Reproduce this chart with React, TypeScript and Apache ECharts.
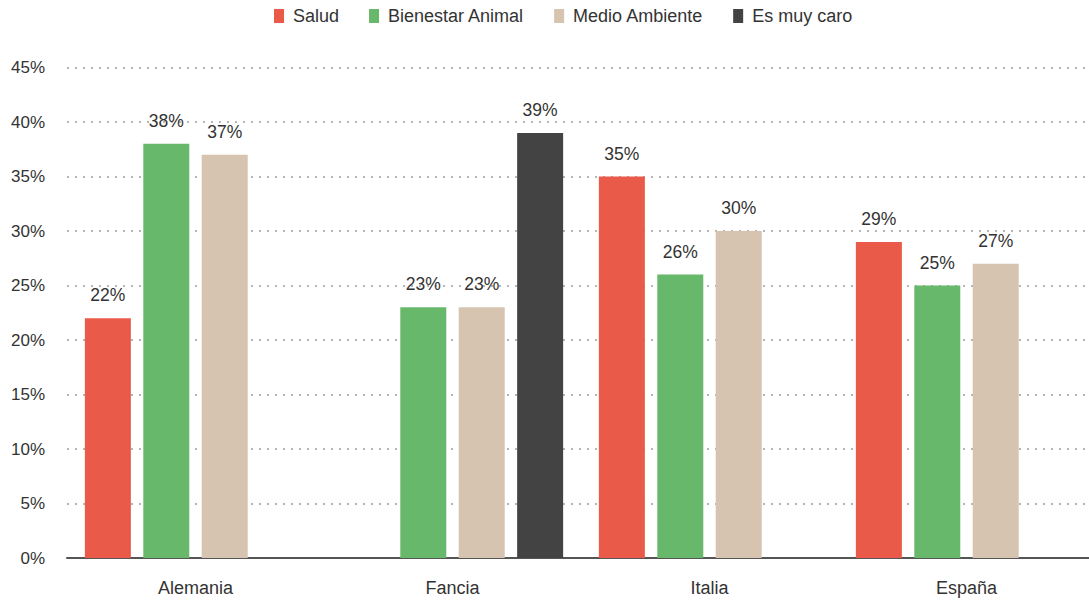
import React, { useEffect, useRef } from "react";
import * as echarts from "echarts";

const categories = ["Alemania", "Fancia", "Italia", "España"];
const seriesNames = ["Salud", "Bienestar Animal", "Medio Ambiente", "Es muy caro"];
const salud = [22, null, 35, 29];
const bienestar = [38, 23, 26, 25];
const medio = [37, 23, 30, 27];
const caro = [null, 39, null, null];
const colors = ["#EA5A48", "#67B86A", "#D6C4B1", "#434343"];

const FONT = "'Liberation Sans', Arial, sans-serif";

export default function App() {
  const ref = useRef<HTMLDivElement>(null);
  useEffect(() => {
    document.body.style.margin = "0";
    document.body.style.overflow = "hidden";
    const chart = echarts.init(ref.current!, null, { renderer: "svg" });
    const values = [salud, bienestar, medio, caro];
    chart.setOption({
      animation: false,
      color: colors,
      textStyle: { fontFamily: FONT },
      legend: {
        top: 2,
        left: 269,
        itemWidth: 10,
        itemHeight: 14,
        itemGap: 30,
        icon: "rect",
        textStyle: { fontSize: 18, color: "#333", fontFamily: FONT, padding: [0, 0, 0, 4] },
        data: seriesNames,
      },
      grid: { left: 67, top: 67.5, right: 0, bottom: 42, containLabel: false },
      xAxis: {
        type: "category",
        data: categories,
        axisTick: { show: false },
        axisLine: { show: true, lineStyle: { color: "#555", width: 2 } },
        axisLabel: { fontSize: 18, color: "#333", margin: 21, fontFamily: FONT },
        z: 1,
      },
      yAxis: {
        type: "value",
        min: 0,
        max: 45,
        interval: 5,
        axisLine: { show: false },
        axisTick: { show: false },
        axisLabel: { formatter: "{value}%", fontSize: 17, color: "#333", margin: 22, fontFamily: FONT },
        splitLine: { show: true, lineStyle: { color: "#b5b5b5", width: 2, type: [2, 6] } },
      },
      series: seriesNames.map((name, i) => ({
        name,
        type: "bar",
        data: values[i],
        barWidth: 46,
        barGap: "27%",
        z: 3,
        label: {
          show: true,
          position: "top",
          distance: 14,
          formatter: "{c}%",
          fontSize: 17.5,
          color: "#333",
          fontFamily: FONT,
        },
      })),
    });
    return () => chart.dispose();
  }, []);
  return <div ref={ref} style={{ width: 1095, height: 600 }} />;
}
